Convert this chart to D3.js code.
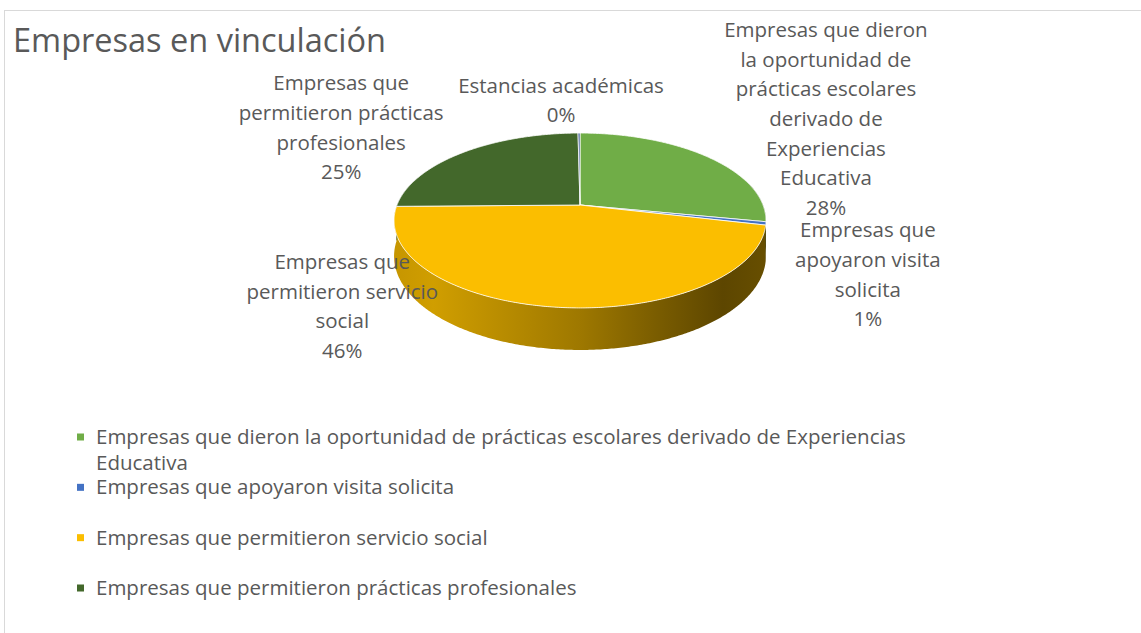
<!DOCTYPE html>
<html>
<head>
<meta charset="utf-8">
<script src="https://cdn.jsdelivr.net/npm/d3@7"></script>
<style>
body { margin: 0; background: #fff; }
text { font-family: "Open Sans", Lato, sans-serif; fill: #595959; }
</style>
</head>
<body>
<div id="chart"></div>
<script>
// data (share of companies, %)
var categories = [
    "Empresas que dieron la oportunidad de prácticas escolares derivado de Experiencias Educativa",
    "Empresas que apoyaron visita solicita",
    "Empresas que permitieron servicio social",
    "Empresas que permitieron prácticas profesionales",
    "Estancias académicas"
];
var values = [28, 0.6, 46, 25, 0.2];
var colors = ["#70AD47", "#4472C4", "#FBBE00", "#43682B", "#2E4D8C"];
// how Excel wrapped each data label
var labelLines = [
    ["Empresas que dieron", "la oportunidad de", "prácticas escolares", "derivado de", "Experiencias", "Educativa"],
    ["Empresas que", "apoyaron visita", "solicita"],
    ["Empresas que", "permitieron servicio", "social"],
    ["Empresas que", "permitieron prácticas", "profesionales"],
    ["Estancias académicas"]
];
// label shift from the rim point of each slice (layout only)
var labelNudge = [[119, -38], [102, 51], [-214, -1], [-122, -25], [-18, -33]];
var legendCount = 4; // the fifth entry is cut off in the original

var width = 1141, height = 633;
var cx = 580, cy = 205, R = 183, bR = 84.7, persp = 0.177, depth = 34.6;

var svg = d3.select("#chart").append("svg")
    .attr("width", width)
    .attr("height", height);

svg.append("rect")
    .attr("x", 4.5).attr("y", 10.5)
    .attr("width", width + 10).attr("height", height + 10)
    .attr("fill", "#fff")
    .attr("stroke", "#D9D9D9");

svg.append("text")
    .attr("x", 13).attr("y", 52)
    .style("font-size", "32.5px")
    .text("Empresas en vinculación");

// point on the tilted disc, seen with some perspective
function proj(a, dz) {
    var u = Math.sin(a), v = -Math.cos(a);
    var s = 1 / (1 - persp * v);
    return [cx + R * u * s, cy + bR * v * s + dz * s];
}

function samples(a0, a1) {
    var n = Math.max(2, Math.ceil((a1 - a0) / 0.01));
    return d3.range(n + 1).map(function (i) { return a0 + (a1 - a0) * i / n; });
}

var pie = d3.pie().sort(null).value(function (d) { return d; });
var arcs = pie(values);
var total = d3.sum(values);

// side gradients
var defs = svg.append("defs");
var shade = [[0, 0.78], [0.12, 0.83], [0.5, 0.63], [0.71, 0.48], [0.87, 0.37], [1, 0.42]];
colors.forEach(function (c, i) {
    var base = d3.rgb(c);
    var g = defs.append("linearGradient")
        .attr("id", "side" + i)
        .attr("gradientUnits", "userSpaceOnUse")
        .attr("x1", cx - R - 10).attr("x2", cx + R + 10)
        .attr("y1", 0).attr("y2", 0);
    shade.forEach(function (s) {
        g.append("stop")
            .attr("offset", s[0])
            .attr("stop-color", d3.rgb(base.r * s[1], base.g * s[1], base.b * s[1]).formatHex());
    });
});

var line = d3.line();
var lo = Math.PI / 2 - 0.3, hi = 3 * Math.PI / 2 + 0.3;

// sides (front half only)
svg.append("g").selectAll("path")
    .data(arcs.filter(function (d) { return d.endAngle > lo && d.startAngle < hi; }))
    .enter().append("path")
    .attr("d", function (d) {
        var a0 = Math.max(d.startAngle, lo), a1 = Math.min(d.endAngle, hi);
        var as = samples(a0, a1);
        var pts = as.map(function (a) { return proj(a, 0); })
            .concat(as.slice().reverse().map(function (a) { return proj(a, depth); }));
        return line(pts) + "Z";
    })
    .attr("fill", function (d) { return "url(#side" + d.index + ")"; });

// top faces
svg.append("g").selectAll("path")
    .data(arcs)
    .enter().append("path")
    .attr("d", function (d) {
        var pts = [[cx, cy]].concat(samples(d.startAngle, d.endAngle).map(function (a) { return proj(a, 0); }));
        return line(pts) + "Z";
    })
    .attr("fill", function (d) { return colors[d.index]; })
    .attr("stroke", "#fff")
    .attr("stroke-width", 0.8)
    .attr("stroke-linejoin", "round");

// data labels
var lh = 29.6, fs = 20.5;
svg.append("g").selectAll("text")
    .data(arcs)
    .enter().append("text")
    .attr("text-anchor", "middle")
    .style("font-size", fs + "px")
    .each(function (d) {
        var rim = proj((d.startAngle + d.endAngle) / 2, 0);
        var lx = rim[0] + labelNudge[d.index][0];
        var ly = rim[1] + labelNudge[d.index][1];
        var rows = labelLines[d.index].concat([Math.round(d.value / total * 100) + "%"]);
        var top = ly - (rows.length - 1) / 2 * lh + fs * 0.36;
        d3.select(this).selectAll("tspan")
            .data(rows)
            .enter().append("tspan")
            .attr("x", lx)
            .attr("y", function (r, i) { return top + i * lh; })
            .text(function (r) { return r; });
    });

// legend
var legendY = d3.scalePoint()
    .domain(categories.slice(0, legendCount))
    .range([437, 588]);

function wrap(words, maxW, size) {
    var probe = svg.append("text").style("font-size", size + "px");
    var out = [], cur = "";
    words.split(" ").forEach(function (w) {
        var t = cur ? cur + " " + w : w;
        probe.text(t);
        if (cur && probe.node().getComputedTextLength() > maxW) { out.push(cur); cur = w; }
        else cur = t;
    });
    out.push(cur);
    probe.remove();
    return out;
}

var lfs = 20.5;
var leg = svg.append("g").selectAll("g")
    .data(categories.slice(0, legendCount))
    .enter().append("g")
    .attr("transform", function (d) { return "translate(0," + legendY(d) + ")"; });

leg.append("rect")
    .attr("x", 77).attr("y", -3.5)
    .attr("width", 7).attr("height", 7)
    .attr("fill", function (d, i) { return colors[i]; });

leg.append("text")
    .style("font-size", lfs + "px")
    .each(function (d) {
        d3.select(this).selectAll("tspan")
            .data(wrap(d, 840, lfs))
            .enter().append("tspan")
            .attr("x", 96)
            .attr("y", function (r, i) { return 7 + i * 26; })
            .text(function (r) { return r; });
    });
</script>
</body>
</html>
